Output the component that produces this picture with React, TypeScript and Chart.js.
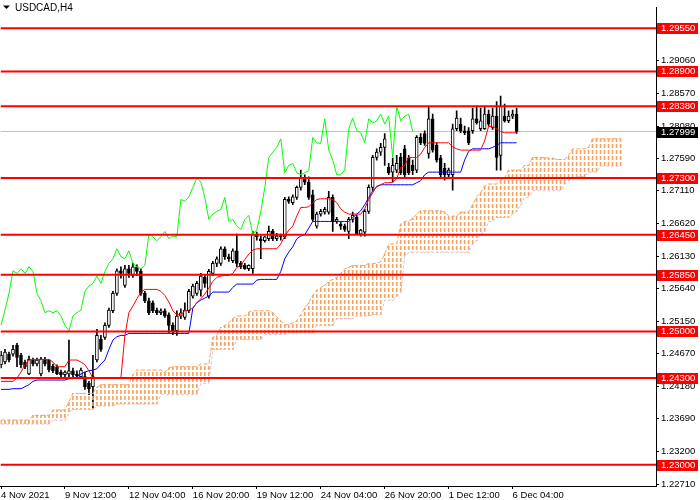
import React, { useEffect, useRef } from "react";
import { Chart, registerables } from "chart.js";

Chart.register(...registerables);

const FONT = "'Liberation Sans', Arial, sans-serif";

const symbolTitle = "USDCAD,H4";
const timeLabels = ["4 Nov 2021", "9 Nov 12:00", "12 Nov 04:00", "16 Nov 20:00", "19 Nov 12:00", "24 Nov 04:00", "26 Nov 20:00", "1 Dec 12:00", "6 Dec 04:00"];
const timeLabelBars = [0, 16, 32, 48, 64, 80, 96, 112, 128];
const priceTicks = [1.2906, 1.2857, 1.2808, 1.2759, 1.2711, 1.2662, 1.2613, 1.2564, 1.2515, 1.2467, 1.2418, 1.2369, 1.232, 1.2271];
const levels = [1.2955, 1.289, 1.2838, 1.273, 1.2645, 1.2585, 1.25, 1.243, 1.23];
const lastPrice = 1.27999;
const priceMin = 1.2268;
const priceMax = 1.29857;
const barMin = -0.125;
const barMax = 163.875;

const opens = [
  1.2450, 1.2454, 1.2466, 1.2466, 1.2479, 1.2464, 1.2454, 1.2436, 1.2457, 1.2451,
  1.2436, 1.2458, 1.2457, 1.2448, 1.2447, 1.2439, 1.2435, 1.2436, 1.2441, 1.2436,
  1.2432, 1.2432, 1.2422, 1.2417, 1.2457, 1.2488, 1.2491, 1.2509, 1.2531, 1.2557,
  1.2591, 1.2569, 1.2594, 1.2584, 1.2597, 1.2590, 1.2557, 1.2546, 1.2543, 1.2532,
  1.2528, 1.2531, 1.2525, 1.2509, 1.2501, 1.2523, 1.2521, 1.2531, 1.2553, 1.2557,
  1.2562, 1.2581, 1.2553, 1.2587, 1.2602, 1.2602, 1.2624, 1.2612, 1.2606, 1.2621,
  1.2602, 1.2599, 1.2594, 1.2594, 1.2646, 1.2639, 1.2636, 1.2639, 1.2650, 1.2639,
  1.2643, 1.2642, 1.2698, 1.2693, 1.2701, 1.2716, 1.2730, 1.2724, 1.2705, 1.2658,
  1.2676, 1.2679, 1.2679, 1.2701, 1.2665, 1.2661, 1.2658, 1.2650, 1.2668, 1.2671,
  1.2646, 1.2649, 1.2680, 1.2716, 1.2761, 1.2769, 1.2776, 1.2746, 1.2739, 1.2742,
  1.2761, 1.2774, 1.2760, 1.2749, 1.2742, 1.2791, 1.2797, 1.2767, 1.2819, 1.2779,
  1.2760, 1.2745, 1.2735, 1.2735, 1.2804, 1.2811, 1.2801, 1.2801, 1.2801, 1.2819,
  1.2804, 1.2804, 1.2826, 1.2806, 1.2823, 1.2764, 1.2823, 1.2816, 1.2823, 1.2826,
];
const highs = [
  1.2470, 1.2473, 1.2469, 1.2479, 1.2482, 1.2467, 1.2457, 1.2463, 1.2460, 1.2460,
  1.2461, 1.2461, 1.2458, 1.2451, 1.2450, 1.2442, 1.2441, 1.2487, 1.2445, 1.2441,
  1.2445, 1.2439, 1.2425, 1.2464, 1.2503, 1.2494, 1.2513, 1.2535, 1.2560, 1.2594,
  1.2597, 1.2599, 1.2599, 1.2602, 1.2600, 1.2594, 1.2560, 1.2550, 1.2546, 1.2535,
  1.2534, 1.2534, 1.2528, 1.2513, 1.2531, 1.2534, 1.2543, 1.2563, 1.2571, 1.2575,
  1.2587, 1.2584, 1.2593, 1.2605, 1.2612, 1.2627, 1.2627, 1.2616, 1.2624, 1.2646,
  1.2605, 1.2602, 1.2600, 1.2650, 1.2649, 1.2643, 1.2643, 1.2658, 1.2653, 1.2647,
  1.2646, 1.2701, 1.2702, 1.2705, 1.2718, 1.2742, 1.2735, 1.2732, 1.2712, 1.2679,
  1.2683, 1.2686, 1.2710, 1.2705, 1.2671, 1.2664, 1.2661, 1.2671, 1.2679, 1.2674,
  1.2653, 1.2683, 1.2720, 1.2764, 1.2774, 1.2782, 1.2797, 1.2752, 1.2760, 1.2764,
  1.2767, 1.2779, 1.2764, 1.2757, 1.2794, 1.2797, 1.2801, 1.2838, 1.2826, 1.2783,
  1.2764, 1.2752, 1.2745, 1.2811, 1.2831, 1.2820, 1.2808, 1.2806, 1.2835, 1.2838,
  1.2835, 1.2838, 1.2832, 1.2835, 1.2845, 1.2853, 1.2841, 1.2831, 1.2832, 1.2835,
];
const lows = [
  1.2445, 1.2451, 1.2454, 1.2463, 1.2447, 1.2445, 1.2444, 1.2435, 1.2448, 1.2448,
  1.2433, 1.2448, 1.2439, 1.2438, 1.2435, 1.2432, 1.2432, 1.2432, 1.2432, 1.2430,
  1.2429, 1.2413, 1.2405, 1.2385, 1.2454, 1.2470, 1.2488, 1.2506, 1.2528, 1.2554,
  1.2580, 1.2566, 1.2581, 1.2581, 1.2584, 1.2554, 1.2543, 1.2525, 1.2528, 1.2525,
  1.2525, 1.2521, 1.2498, 1.2495, 1.2494, 1.2519, 1.2518, 1.2528, 1.2550, 1.2554,
  1.2553, 1.2566, 1.2550, 1.2584, 1.2597, 1.2599, 1.2608, 1.2605, 1.2603, 1.2597,
  1.2594, 1.2593, 1.2591, 1.2587, 1.2637, 1.2609, 1.2634, 1.2636, 1.2636, 1.2636,
  1.2637, 1.2639, 1.2692, 1.2690, 1.2698, 1.2712, 1.2720, 1.2698, 1.2665, 1.2655,
  1.2673, 1.2676, 1.2676, 1.2650, 1.2662, 1.2653, 1.2650, 1.2639, 1.2664, 1.2645,
  1.2643, 1.2643, 1.2677, 1.2711, 1.2757, 1.2764, 1.2749, 1.2735, 1.2724, 1.2738,
  1.2735, 1.2732, 1.2735, 1.2735, 1.2738, 1.2780, 1.2779, 1.2760, 1.2769, 1.2754,
  1.2730, 1.2727, 1.2732, 1.2712, 1.2801, 1.2798, 1.2795, 1.2780, 1.2797, 1.2811,
  1.2801, 1.2803, 1.2808, 1.2803, 1.2742, 1.2742, 1.2814, 1.2813, 1.2819, 1.2797,
];
const closes = [
  1.2464, 1.2469, 1.2457, 1.2473, 1.2461, 1.2450, 1.2447, 1.2458, 1.2451, 1.2457,
  1.2458, 1.2451, 1.2442, 1.2441, 1.2436, 1.2435, 1.2439, 1.2441, 1.2435, 1.2433,
  1.2442, 1.2417, 1.2414, 1.2432, 1.2494, 1.2473, 1.2509, 1.2532, 1.2557, 1.2591,
  1.2587, 1.2594, 1.2587, 1.2597, 1.2590, 1.2557, 1.2546, 1.2528, 1.2531, 1.2528,
  1.2531, 1.2523, 1.2509, 1.2501, 1.2523, 1.2528, 1.2532, 1.2560, 1.2568, 1.2572,
  1.2583, 1.2572, 1.2590, 1.2602, 1.2609, 1.2624, 1.2612, 1.2609, 1.2621, 1.2602,
  1.2597, 1.2594, 1.2599, 1.2646, 1.2642, 1.2636, 1.2642, 1.2650, 1.2639, 1.2643,
  1.2642, 1.2698, 1.2695, 1.2702, 1.2716, 1.2730, 1.2724, 1.2701, 1.2668, 1.2676,
  1.2680, 1.2683, 1.2701, 1.2665, 1.2668, 1.2658, 1.2653, 1.2668, 1.2674, 1.2646,
  1.2652, 1.2680, 1.2716, 1.2761, 1.2769, 1.2776, 1.2789, 1.2738, 1.2749, 1.2752,
  1.2738, 1.2735, 1.2738, 1.2741, 1.2791, 1.2783, 1.2782, 1.2819, 1.2772, 1.2757,
  1.2735, 1.2735, 1.2742, 1.2804, 1.2820, 1.2801, 1.2798, 1.2783, 1.2819, 1.2813,
  1.2816, 1.2826, 1.2811, 1.2823, 1.2761, 1.2838, 1.2816, 1.2823, 1.2826, 1.27999,
];

const tenkan = [
  1.2425, 1.2425, 1.2425, 1.2425, 1.2430, 1.2439, 1.2450, 1.2457, 1.2458, 1.2458,
  1.2458, 1.2458, 1.2458, 1.2454, 1.2447, 1.2447, 1.2447, 1.2457, 1.2457, 1.2457,
  1.2454, 1.2450, 1.2441, 1.2430, 1.2430, 1.2430, 1.2430, 1.2430, 1.2430, 1.2430,
  1.2430, 1.2494, 1.2528, 1.2538, 1.2549, 1.2559, 1.2563, 1.2563, 1.2563, 1.2563,
  1.2560, 1.2554, 1.2544, 1.2531, 1.2525, 1.2525, 1.2531, 1.2532, 1.2535, 1.2543,
  1.2549, 1.2556, 1.2565, 1.2575, 1.2581, 1.2583, 1.2584, 1.2584, 1.2587, 1.2596,
  1.2599, 1.2608, 1.2616, 1.2622, 1.2624, 1.2624, 1.2624, 1.2624, 1.2624, 1.2624,
  1.2631, 1.2643, 1.2652, 1.2658, 1.2673, 1.2686, 1.2686, 1.2687, 1.2693, 1.2698,
  1.2699, 1.2699, 1.2699, 1.2698, 1.2693, 1.2684, 1.2679, 1.2676, 1.2676, 1.2676,
  1.2676, 1.2684, 1.2698, 1.2708, 1.2718, 1.2720, 1.2723, 1.2723, 1.2724, 1.2729,
  1.2746, 1.2749, 1.2761, 1.2761, 1.2761, 1.2766, 1.2776, 1.2783, 1.2783, 1.2783,
  1.2783, 1.2783, 1.2783, 1.2777, 1.2774, 1.2772, 1.2772, 1.2772, 1.2772, 1.2772,
  1.2772, 1.2786, 1.2808, 1.2807, 1.2804, 1.2800, 1.2798, 1.2798, 1.2798, 1.2798,
];
const kijun = [
  1.2413, 1.2413, 1.2413, 1.2414, 1.2414, 1.2414, 1.2417, 1.2420, 1.2425, 1.2427,
  1.2427, 1.2427, 1.2427, 1.2427, 1.2427, 1.2427, 1.2427, 1.2429, 1.2429, 1.2432,
  1.2436, 1.2439, 1.2441, 1.2442, 1.2444, 1.2451, 1.2457, 1.2473, 1.2487, 1.2492,
  1.2494, 1.2494, 1.2497, 1.2497, 1.2497, 1.2497, 1.2497, 1.2497, 1.2497, 1.2497,
  1.2497, 1.2497, 1.2497, 1.2497, 1.2497, 1.2497, 1.2497, 1.2497, 1.2535, 1.2543,
  1.2547, 1.2550, 1.2553, 1.2559, 1.2559, 1.2559, 1.2559, 1.2559, 1.2566, 1.2571,
  1.2571, 1.2571, 1.2571, 1.2571, 1.2577, 1.2578, 1.2578, 1.2578, 1.2578, 1.2578,
  1.2590, 1.2609, 1.2619, 1.2627, 1.2639, 1.2643, 1.2645, 1.2655, 1.2665, 1.2665,
  1.2665, 1.2665, 1.2665, 1.2665, 1.2665, 1.2665, 1.2665, 1.2665, 1.2671, 1.2676,
  1.2681, 1.2690, 1.2701, 1.2711, 1.2717, 1.2720, 1.2720, 1.2720, 1.2720, 1.2720,
  1.2720, 1.2720, 1.2720, 1.2720, 1.2723, 1.2726, 1.2735, 1.2739, 1.2739, 1.2739,
  1.2739, 1.2739, 1.2739, 1.2739, 1.2739, 1.2739, 1.2757, 1.2770, 1.2774, 1.2774,
  1.2774, 1.2774, 1.2774, 1.2776, 1.2779, 1.2783, 1.2783, 1.2783, 1.2783, 1.2783,
];
const spanA = [
  1.2367, 1.2367, 1.2367, 1.2367, 1.2367, 1.2367, 1.2367, 1.2367, 1.2374, 1.2374,
  1.2374, 1.2374, 1.2374, 1.2382, 1.2382, 1.2382, 1.2382, 1.2395, 1.2407, 1.2407,
  1.2407, 1.2407, 1.2407, 1.2407, 1.2416, 1.2420, 1.2420, 1.2420, 1.2420, 1.2420,
  1.2420, 1.2420, 1.2420, 1.2435, 1.2442, 1.2442, 1.2442, 1.2442, 1.2442, 1.2442,
  1.2442, 1.2439, 1.2445, 1.2447, 1.2447, 1.2447, 1.2447, 1.2447, 1.2447, 1.2447,
  1.2451, 1.2451, 1.2451, 1.2491, 1.2494, 1.2506, 1.2509, 1.2513, 1.2519, 1.2523,
  1.2523, 1.2523, 1.2529, 1.2531, 1.2531, 1.2531, 1.2531, 1.2531, 1.2528, 1.2522,
  1.2516, 1.2510, 1.2510, 1.2513, 1.2516, 1.2525, 1.2535, 1.2543, 1.2554, 1.2562,
  1.2566, 1.2569, 1.2575, 1.2578, 1.2581, 1.2587, 1.2594, 1.2596, 1.2599, 1.2599,
  1.2599, 1.2599, 1.2602, 1.2602, 1.2602, 1.2605, 1.2616, 1.2631, 1.2631, 1.2631,
  1.2661, 1.2665, 1.2665, 1.2670, 1.2676, 1.2681, 1.2681, 1.2681, 1.2681, 1.2681,
  1.2681, 1.2679, 1.2673, 1.2673, 1.2673, 1.2679, 1.2679, 1.2679, 1.2690, 1.2702,
  1.2708, 1.2718, 1.2721, 1.2721, 1.2721, 1.2727, 1.2730, 1.2742, 1.2742, 1.2742,
  1.2742, 1.2749, 1.2749, 1.2761, 1.2761, 1.2761, 1.2761, 1.2760, 1.2760, 1.2758,
  1.2758, 1.2758, 1.2764, 1.2774, 1.2774, 1.2774, 1.2774, 1.2776, 1.2789, 1.2789,
  1.2789, 1.2789, 1.2789, 1.2789, 1.2789, 1.2789,
];
const spanB = [
  1.2361, 1.2361, 1.2361, 1.2361, 1.2361, 1.2361, 1.2361, 1.2361, 1.2361, 1.2361,
  1.2361, 1.2361, 1.2361, 1.2367, 1.2367, 1.2367, 1.2367, 1.2377, 1.2383, 1.2383,
  1.2383, 1.2383, 1.2383, 1.2383, 1.2388, 1.2388, 1.2388, 1.2388, 1.2388, 1.2391,
  1.2391, 1.2391, 1.2391, 1.2391, 1.2391, 1.2391, 1.2391, 1.2391, 1.2391, 1.2391,
  1.2405, 1.2405, 1.2405, 1.2405, 1.2405, 1.2405, 1.2405, 1.2405, 1.2405, 1.2405,
  1.2422, 1.2422, 1.2422, 1.2473, 1.2473, 1.2473, 1.2473, 1.2473, 1.2473, 1.2488,
  1.2488, 1.2488, 1.2488, 1.2488, 1.2488, 1.2488, 1.2495, 1.2495, 1.2495, 1.2495,
  1.2495, 1.2495, 1.2498, 1.2498, 1.2498, 1.2498, 1.2498, 1.2498, 1.2498, 1.2509,
  1.2509, 1.2509, 1.2509, 1.2509, 1.2519, 1.2519, 1.2519, 1.2519, 1.2519, 1.2523,
  1.2523, 1.2523, 1.2523, 1.2525, 1.2525, 1.2525, 1.2547, 1.2547, 1.2547, 1.2553,
  1.2557, 1.2612, 1.2619, 1.2619, 1.2619, 1.2619, 1.2619, 1.2619, 1.2619, 1.2619,
  1.2619, 1.2619, 1.2619, 1.2619, 1.2619, 1.2619, 1.2619, 1.2619, 1.2631, 1.2636,
  1.2646, 1.2650, 1.2665, 1.2665, 1.2671, 1.2671, 1.2671, 1.2671, 1.2676, 1.2680,
  1.2690, 1.2701, 1.2701, 1.2711, 1.2711, 1.2711, 1.2711, 1.2711, 1.2711, 1.2711,
  1.2711, 1.2720, 1.2726, 1.2732, 1.2732, 1.2732, 1.2732, 1.2739, 1.2739, 1.2739,
  1.2748, 1.2748, 1.2748, 1.2748, 1.2748, 1.2748,
];
const chikouShift = 26;

export default function App() {
  const ref = useRef<HTMLCanvasElement | null>(null);

  useEffect(() => {
    document.body.style.margin = "0";
    const canvas = ref.current;
    if (!canvas) return;
    const ctx = canvas.getContext("2d");
    if (!ctx) return;

    const tile = document.createElement("canvas");
    tile.width = 1;
    tile.height = 6;
    const tctx = tile.getContext("2d")!;
    tctx.fillStyle = "#F4A460";
    tctx.fillRect(0, 0, 1, 4);
    const cloudPattern = ctx.createPattern(tile, "repeat")!;

    const series = (arr: number[]) => arr.map((v, i) => ({ x: i, y: v }));
    const hLine = (v: number) => [
      { x: barMin, y: v },
      { x: barMax, y: v },
    ];

    const levelSets = levels.map((L) => ({
      type: "line" as const,
      data: hLine(L),
      borderColor: "#FF0000",
      borderWidth: 2,
      pointRadius: 0,
      order: 0,
    }));

    const chikou = closes.slice(chikouShift).map((v, j) => ({ x: j, y: v }));

    const overlay = {
      id: "mtOverlay",
      afterDraw(chart: any) {
        const c = chart.ctx;
        const ys = chart.scales.y;
        const left = chart.chartArea.right + 1;
        c.save();
        c.font = `9.5px ${FONT}`;
        c.textBaseline = "middle";
        c.textAlign = "left";
        levels.forEach((L) => {
          const py = Math.round(ys.getPixelForValue(L));
          c.fillStyle = "#FF0000";
          c.fillRect(left, py - 5, 41, 11);
          c.fillStyle = "#FFFFFF";
          c.fillText(L.toFixed(5), left + 4, py + 0.5);
        });
        const pp = Math.round(ys.getPixelForValue(lastPrice));
        c.fillStyle = "#000000";
        c.fillRect(left, pp - 5, 41, 11);
        c.fillStyle = "#FFFFFF";
        c.fillText(lastPrice.toFixed(5), left + 4, pp + 0.5);

        c.fillStyle = "#000000";
        c.beginPath();
        c.moveTo(3, 5.5);
        c.lineTo(10, 5.5);
        c.lineTo(6.5, 9);
        c.closePath();
        c.fill();
        c.font = `10px ${FONT}`;
        c.textBaseline = "alphabetic";
        c.fillStyle = "#000000";
        c.fillText(symbolTitle, 15, 11);
        c.restore();
      },
    };

    const chart = new Chart(ctx, {
      type: "bar",
      data: {
        datasets: [
          ...levelSets,
          {
            type: "line",
            data: series(tenkan),
            borderColor: "#FF0000",
            borderWidth: 1,
            pointRadius: 0,
            order: 1,
          },
          {
            type: "line",
            data: series(kijun),
            borderColor: "#0000FF",
            borderWidth: 1,
            pointRadius: 0,
            order: 1,
          },
          {
            type: "line",
            data: chikou,
            borderColor: "#00FF00",
            borderWidth: 1,
            pointRadius: 0,
            order: 1,
          },
          {
            type: "line",
            data: series(spanA),
            borderColor: "#F4A460",
            borderWidth: 1,
            borderDash: [4, 2],
            pointRadius: 0,
            order: 2,
          },
          {
            type: "line",
            data: series(spanB),
            borderColor: "#D8BFD8",
            borderWidth: 1,
            borderDash: [3, 2],
            pointRadius: 0,
            order: 2,
          },
          {
            type: "bar",
            data: spanA.map((a, i) => ({ x: i, y: [spanB[i], a] })),
            backgroundColor: cloudPattern,
            borderWidth: 0,
            barThickness: 1,
            grouped: false,
            order: 3,
          },
          {
            type: "bar",
            data: opens.map((o, i) => ({ x: i, y: [o, closes[i]] })),
            backgroundColor: opens.map((o, i) => (closes[i] >= o ? "#FFFFFF" : "#000000")),
            borderColor: "#000000",
            borderWidth: 1,
            borderSkipped: false,
            barThickness: 3,
            minBarLength: 1,
            grouped: false,
            order: 4,
          },
          {
            type: "bar",
            data: lows.map((l, i) => ({ x: i, y: [l, highs[i]] })),
            backgroundColor: "#000000",
            borderWidth: 0,
            barThickness: 1,
            grouped: false,
            order: 5,
          },
          {
            type: "line",
            data: hLine(lastPrice),
            borderColor: "#C0C0C0",
            borderWidth: 1,
            pointRadius: 0,
            order: 6,
          },
        ] as any,
      },
      options: {
        responsive: false,
        devicePixelRatio: 1,
        animation: false,
        events: [],
        layout: { padding: 0 },
        plugins: {
          legend: { display: false },
          tooltip: { enabled: false },
          title: { display: false },
        },
        scales: {
          x: {
            type: "linear",
            min: barMin,
            max: barMax,
            offset: false,
            afterFit: (s: any) => {
              s.height = 14;
            },
            afterBuildTicks: (s: any) => {
              s.ticks = timeLabelBars.map((v) => ({ value: v }));
            },
            ticks: {
              callback: (_v: any, i: number) => timeLabels[i],
              align: "start",
              maxRotation: 0,
              minRotation: 0,
              autoSkip: false,
              padding: 1,
              color: "#000000",
              font: { family: FONT, size: 9.5 },
            },
            grid: { drawOnChartArea: false, drawTicks: true, tickLength: 3, color: "#000000", offset: false },
            border: { display: true, color: "#000000", width: 1 },
          },
          y: {
            type: "linear",
            position: "right",
            min: priceMin,
            max: priceMax,
            afterFit: (s: any) => {
              s.width = 44;
            },
            afterBuildTicks: (s: any) => {
              s.ticks = priceTicks.map((v) => ({ value: v }));
            },
            ticks: {
              callback: (v: any) => Number(v).toFixed(5),
              autoSkip: false,
              padding: 2,
              color: "#000000",
              font: { family: FONT, size: 9.5 },
            },
            grid: { drawOnChartArea: false, drawTicks: true, tickLength: 3, color: "#000000" },
            border: { display: true, color: "#000000", width: 1 },
          },
        },
      } as any,
      plugins: [overlay],
    });

    return () => chart.destroy();
  }, []);

  return (
    <div style={{ width: 700, height: 500, background: "#FFFFFF" }}>
      <canvas ref={ref} width={700} height={500} style={{ display: "block" }} />
    </div>
  );
}
